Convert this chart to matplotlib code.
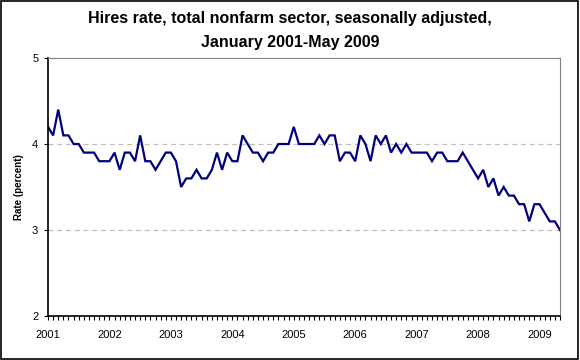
import matplotlib.pyplot as plt
import numpy as np

plt.rcParams['font.family'] = ['Liberation Sans', 'DejaVu Sans']

# monthly hires rate, Jan 2001 - May 2009
rate = [4.2, 4.1, 4.4, 4.1, 4.1, 4.0, 4.0, 3.9, 3.9, 3.9, 3.8, 3.8,
        3.8, 3.9, 3.7, 3.9, 3.9, 3.8, 4.1, 3.8, 3.8, 3.7, 3.8, 3.9,
        3.9, 3.8, 3.5, 3.6, 3.6, 3.7, 3.6, 3.6, 3.7, 3.9, 3.7, 3.9,
        3.8, 3.8, 4.1, 4.0, 3.9, 3.9, 3.8, 3.9, 3.9, 4.0, 4.0, 4.0,
        4.2, 4.0, 4.0, 4.0, 4.0, 4.1, 4.0, 4.1, 4.1, 3.8, 3.9, 3.9,
        3.8, 4.1, 4.0, 3.8, 4.1, 4.0, 4.1, 3.9, 4.0, 3.9, 4.0, 3.9,
        3.9, 3.9, 3.9, 3.8, 3.9, 3.9, 3.8, 3.8, 3.8, 3.9, 3.8, 3.7,
        3.6, 3.7, 3.5, 3.6, 3.4, 3.5, 3.4, 3.4, 3.3, 3.3, 3.1, 3.3,
        3.3, 3.2, 3.1, 3.1, 3.0]
years = ["2001", "2002", "2003", "2004", "2005", "2006", "2007", "2008", "2009"]
yticks = [2, 3, 4, 5]

months = np.arange(len(rate))

fig = plt.figure(figsize=(5.8, 3.6), dpi=100)
ax = fig.add_axes((48/580, 1-316/360, 512/580, 258/360))

# outer chart border
fig.patches.append(plt.Rectangle((0.002, 0.003), 0.995, 0.994, transform=fig.transFigure,
                                 fill=False, edgecolor="black", linewidth=1.2))

ax.plot(months, rate, color="#000080", linewidth=1.6, solid_joinstyle="miter")

ax.set_xlim(0, len(rate) - 1)
ax.set_ylim(2, 5)
for y in [3, 4]:
    ax.axhline(y, color="#c0c0c0", linestyle=(0, (4, 3)), linewidth=0.9, zorder=0)

ax.set_yticks(yticks)
ax.set_yticklabels([str(v) for v in yticks], fontsize=8)
ax.set_xticks(months, minor=True)
ax.set_xticks(np.arange(0, len(rate), 12))
ax.set_xticklabels(years, fontsize=8)
ax.tick_params(axis="x", which="both", direction="out", length=3, width=0.8, pad=7)
ax.tick_params(axis="y", direction="out", length=3, width=0.8, pad=4)

for side in ["top", "right"]:
    ax.spines[side].set_color("#808080")
for side in ["left", "bottom"]:
    ax.spines[side].set_color("black")
    ax.spines[side].set_linewidth(1.2)

ax.set_ylabel("Rate (percent)", fontsize=7, fontweight="bold", labelpad=6)

fig.text(0.5, 1-19/360, "Hires rate, total nonfarm sector, seasonally adjusted,",
         ha="center", va="center", fontsize=11.5, fontweight="bold")
fig.text(0.5, 1-43/360, "January 2001-May 2009",
         ha="center", va="center", fontsize=11.5, fontweight="bold")

fig.savefig("out.png", dpi=100)
